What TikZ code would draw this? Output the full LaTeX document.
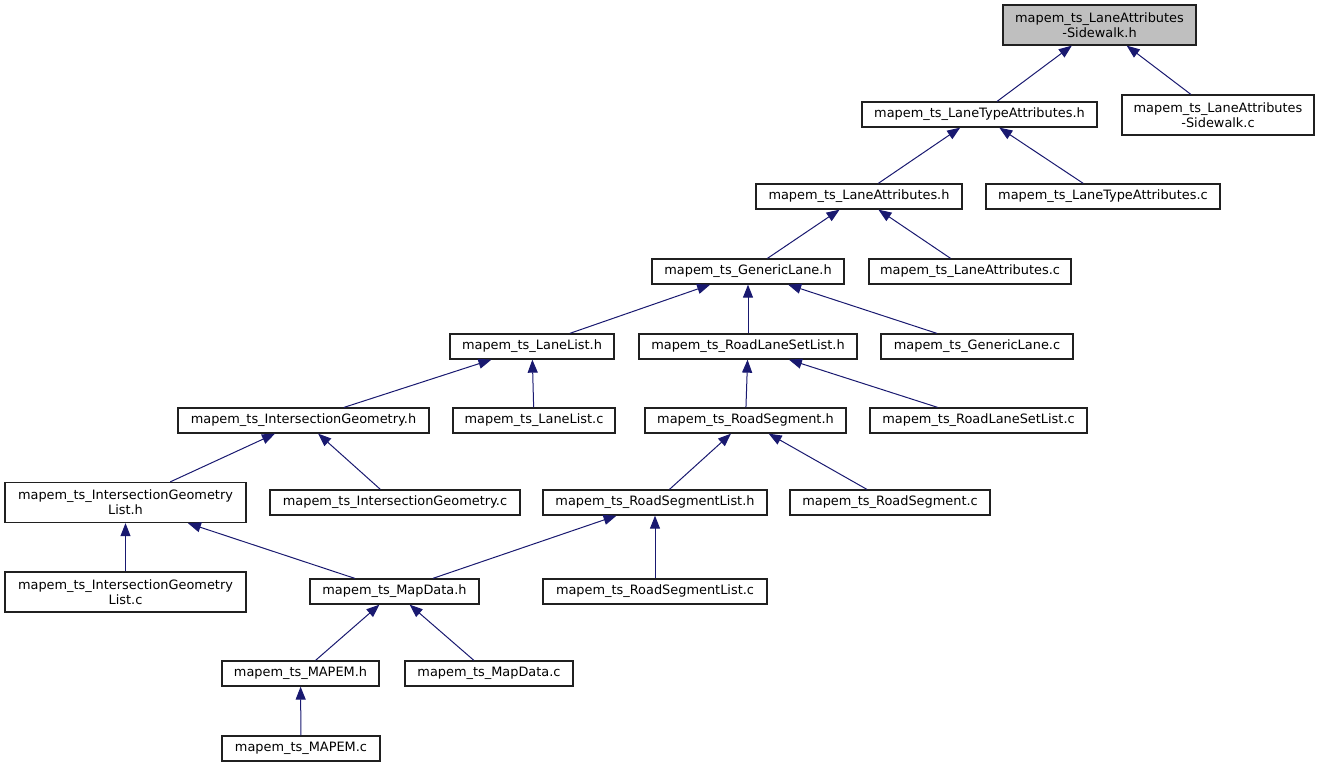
\documentclass[tikz,border=0pt]{standalone}
\usepackage{fontspec}
\setmainfont{DejaVu Sans}
\usetikzlibrary{arrows.meta}
\definecolor{edgecol}{HTML}{191970}
\definecolor{rootfill}{HTML}{BFBFBF}
\definecolor{boxline}{HTML}{202020}
\begin{document}
\begin{tikzpicture}[x=1pt,y=-1pt,
  file/.style={draw=boxline, line width=1.3pt, inner sep=0pt, align=center,
    font=\fontsize{12.9}{15}\selectfont},
  rootfile/.style={file, fill=rootfill},
  dep/.style={draw=edgecol, line width=1pt, -{Triangle[length=13pt,width=10pt]}},
]
\useasboundingbox (0,0) rectangle (1321,768);

\node[rootfile, minimum width=193pt, minimum height=40pt] (root) at (1099.5,25) {mapem\_ts\_LaneAttributes\\-Sidewalk.h};
\node[file, minimum width=235pt, minimum height=25pt] (ltah) at (979.5,114.5) {mapem\_ts\_LaneTypeAttributes.h};
\node[file, minimum width=192pt, minimum height=40pt] (swc) at (1218,115) {mapem\_ts\_LaneAttributes\\-Sidewalk.c};
\node[file, minimum width=206pt, minimum height=25pt] (lah) at (859,196.5) {mapem\_ts\_LaneAttributes.h};
\node[file, minimum width=234pt, minimum height=25pt] (ltac) at (1103,196.5) {mapem\_ts\_LaneTypeAttributes.c};
\node[file, minimum width=192pt, minimum height=25pt] (glh) at (748,271.5) {mapem\_ts\_GenericLane.h};
\node[file, minimum width=202pt, minimum height=25pt] (lac) at (970,271.5) {mapem\_ts\_LaneAttributes.c};
\node[file, minimum width=164pt, minimum height=25pt] (llh) at (532,346.5) {mapem\_ts\_LaneList.h};
\node[file, minimum width=218pt, minimum height=25pt] (rlslh) at (748,346.5) {mapem\_ts\_RoadLaneSetList.h};
\node[file, minimum width=192pt, minimum height=25pt] (glc) at (977,346.5) {mapem\_ts\_GenericLane.c};
\node[file, minimum width=251pt, minimum height=25pt] (igh) at (303.5,420.5) {mapem\_ts\_IntersectionGeometry.h};
\node[file, minimum width=162pt, minimum height=25pt] (llc) at (534,420.5) {mapem\_ts\_LaneList.c};
\node[file, minimum width=201pt, minimum height=25pt] (rsh) at (745.5,420.5) {mapem\_ts\_RoadSegment.h};
\node[file, minimum width=217pt, minimum height=25pt] (rlslc) at (978.5,420.5) {mapem\_ts\_RoadLaneSetList.c};
\node[file, minimum width=241pt, minimum height=40pt] (iglh) at (125.5,502.5) {mapem\_ts\_IntersectionGeometry\\List.h};
\node[file, minimum width=250pt, minimum height=25pt] (igc) at (395,502.5) {mapem\_ts\_IntersectionGeometry.c};
\node[file, minimum width=224pt, minimum height=25pt] (rslh) at (655,502.5) {mapem\_ts\_RoadSegmentList.h};
\node[file, minimum width=200pt, minimum height=25pt] (rsc) at (890,502.5) {mapem\_ts\_RoadSegment.c};
\node[file, minimum width=241pt, minimum height=40pt] (iglc) at (125.5,592) {mapem\_ts\_IntersectionGeometry\\List.c};
\node[file, minimum width=169pt, minimum height=25pt] (mdh) at (394.5,591.5) {mapem\_ts\_MapData.h};
\node[file, minimum width=224pt, minimum height=25pt] (rslc) at (655,591.5) {mapem\_ts\_RoadSegmentList.c};
\node[file, minimum width=157pt, minimum height=25pt] (mapemh) at (300.5,673.5) {mapem\_ts\_MAPEM.h};
\node[file, minimum width=168pt, minimum height=25pt] (mdc) at (489,673.5) {mapem\_ts\_MapData.c};
\node[file, minimum width=158pt, minimum height=25pt] (mapemc) at (301,748.5) {mapem\_ts\_MAPEM.c};

\draw[dep] (ltah) -- (root);
\draw[dep] (swc) -- (root);
\draw[dep] (lah) -- (ltah);
\draw[dep] (ltac) -- (ltah);
\draw[dep] (glh) -- (lah);
\draw[dep] (lac) -- (lah);
\draw[dep] (llh) -- (glh);
\draw[dep] (rlslh) -- (glh);
\draw[dep] (glc) -- (glh);
\draw[dep] (igh) -- (llh);
\draw[dep] (llc) -- (llh);
\draw[dep] (rsh) -- (rlslh);
\draw[dep] (rlslc) -- (rlslh);
\draw[dep] (iglh) -- (igh);
\draw[dep] (igc) -- (igh);
\draw[dep] (rslh) -- (rsh);
\draw[dep] (rsc) -- (rsh);
\draw[dep] (iglc) -- (iglh);
\draw[dep] (mdh) -- (iglh);
\draw[dep] (mdh) -- (rslh);
\draw[dep] (rslc) -- (rslh);
\draw[dep] (mapemh) -- (mdh);
\draw[dep] (mdc) -- (mdh);
\draw[dep] (mapemc) -- (mapemh);
\end{tikzpicture}
\end{document}
